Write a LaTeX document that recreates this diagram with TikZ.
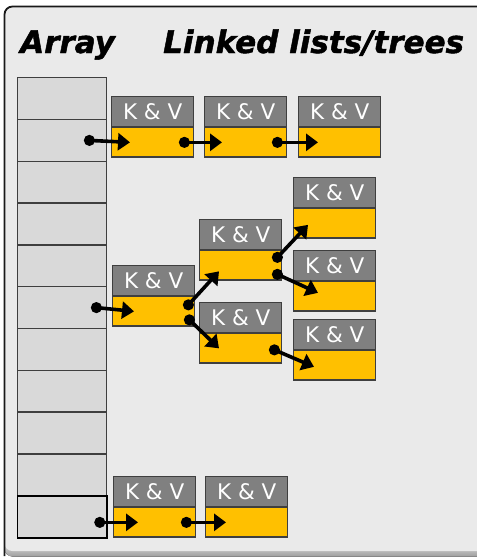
\documentclass[tikz,border=0pt]{standalone}
\usepackage{fontspec}
\setmainfont{DejaVu Sans}
\usetikzlibrary{arrows.meta,calc}
\definecolor{bgc}{HTML}{EAEAEA}
\definecolor{cellc}{HTML}{D9D9D9}
\definecolor{hdrc}{HTML}{808080}
\definecolor{bodyc}{HTML}{FFC000}
\definecolor{edgec}{HTML}{3F3F3F}
\begin{document}
\begin{tikzpicture}[x=1pt,y=-1pt,
  cellbox/.style={draw=edgec,line width=1.4pt,fill=cellc,minimum width=89.5pt,minimum height=41.8pt,inner sep=0pt,anchor=north west},
  hdrbox/.style={draw=edgec,line width=1.4pt,fill=hdrc,minimum width=82pt,minimum height=29.5pt,inner sep=0pt,anchor=north west,text=white,font=\fontsize{21.5}{21.5}\selectfont},
  bodybox/.style={draw=edgec,line width=1.4pt,fill=bodyc,minimum width=82pt,minimum height=29.5pt,inner sep=0pt,anchor=north},
  ptr/.style={line width=3.6pt,-{Triangle[length=12pt,width=17pt]}},
  dotc/.style={fill=black},
  title/.style={font=\fontsize{31}{31}\selectfont\bfseries\itshape\addfontfeatures{FakeBold=1.5},anchor=base west,inner sep=0pt}
]
\useasboundingbox (0,0) rectangle (477,558);
% frame
\fill[bottom color=gray!75,top color=bgc,rounded corners=8pt] (4.5,540) rectangle (500,556.5);
\fill[bgc,rounded corners=8pt] (4.5,6.5) rectangle (500,551);
\draw[black!90,line width=1.8pt,rounded corners=8pt] (4.5,556) -- (4.5,6.5) -- (500,6.5);
\node[title] (tarr) at (20,53) {Array};
\node[title] (tll) at (163,53) {Linked lists/trees};
% array cells
\foreach \i in {0,...,9}{
  \node[cellbox] (cell\i) at (16.5,{77+41.8*\i}) {};
}
\node[cellbox,draw=black,line width=1.8pt] (cell10) at (16.5,{77+41.8*10}) {};
% KV boxes
\foreach \n/\x/\y in {r1a/111/96, r1b/204/96, r1c/298/96, root/112/265, c1/199/219, c2/199/302, g1/293/177, g2/293/250, g3/293/319, b1/113/476, b2/205/476}{
  \node[hdrbox] (\n-h) at (\x,\y) {K \& V};
  \node[bodybox] (\n-b) at (\n-h.south) {};
}
% pointer coordinates
\coordinate (s1) at ([xshift=-18pt]cell1.east);
\coordinate (e1) at ([xshift=19pt]r1a-b.west);
\coordinate (s2) at ([xshift=-10pt]r1a-b.east);
\coordinate (e2) at ([xshift=18pt]r1b-b.west);
\coordinate (s3) at ([xshift=-10pt]r1b-b.east);
\coordinate (e3) at ([xshift=20pt]r1c-b.west);
\coordinate (s4) at ([xshift=-11pt]cell5.east);
\coordinate (e4) at ([xshift=22pt]root-b.west);
\coordinate (s5) at ([shift={(-7pt,6.5pt)}]root-b.east);
\coordinate (e5) at ([shift={(20pt,-6pt)}]c1-b.west);
\coordinate (s6) at ([shift={(-6pt,-8.5pt)}]root-b.east);
\coordinate (e6) at ([xshift=20pt]c2-b.west);
\coordinate (s7) at ([shift={(-5pt,8pt)}]c1-b.east);
\coordinate (e7) at ([shift={(15pt,-1.5pt)}]g1-b.west);
\coordinate (s8) at ([shift={(-5pt,-9pt)}]c1-b.east);
\coordinate (e8) at ([shift={(25pt,3.5pt)}]g2-b.west);
\coordinate (s9) at ([shift={(-8pt,-1.5pt)}]c2-b.east);
\coordinate (e9) at ([shift={(21pt,-1.5pt)}]g3-b.west);
\coordinate (s10) at ($(cell10.east |- b1-b.center)+(-8,0)$);
\coordinate (e10) at ([xshift=25pt]b1-b.west);
\coordinate (s11) at ([xshift=-10pt]b1-b.east);
\coordinate (e11) at ([xshift=21pt]b2-b.west);
\foreach \k in {1,...,11}{
  \draw[ptr] (s\k) -- (e\k);
  \fill[dotc] (s\k) circle (5.6pt);
}
\end{tikzpicture}
\end{document}
